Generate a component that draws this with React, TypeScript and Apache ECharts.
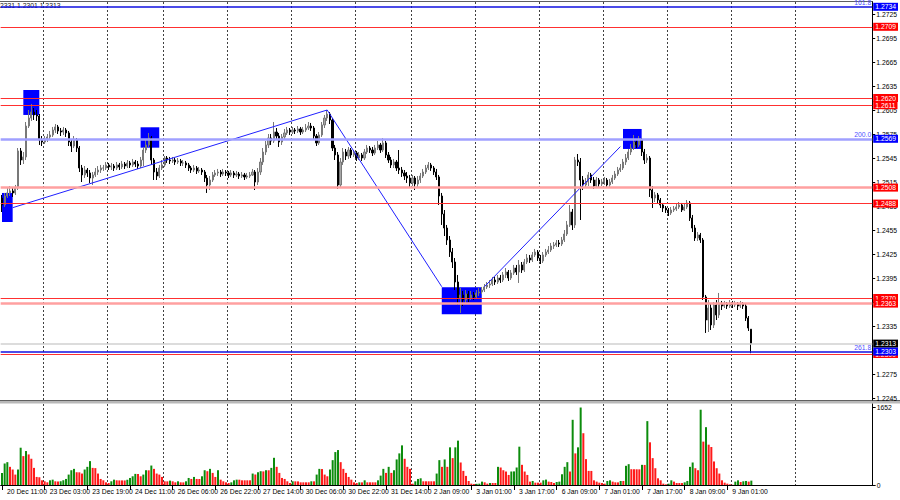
import React, { useEffect, useRef } from 'react';
import * as echarts from 'echarts';

// [open, close, low, high] per H1 bar
const candles: number[][] = [
  [1.2495, 1.24863, 1.24775, 1.24988], [1.24863, 1.24975, 1.24838, 1.25013], [1.24975, 1.25013, 1.2495, 1.25075], [1.25013, 1.25038, 1.24975, 1.251], [1.25038, 1.25013, 1.24963, 1.25075],
  [1.25013, 1.25075, 1.24988, 1.25113], [1.25075, 1.25538, 1.2505, 1.25575], [1.25538, 1.25425, 1.25363, 1.25575], [1.25425, 1.25463, 1.25375, 1.25525], [1.25463, 1.2585, 1.25425, 1.259],
  [1.2585, 1.2595, 1.25825, 1.2605], [1.2595, 1.26025, 1.25913, 1.26125], [1.26025, 1.25988, 1.25925, 1.26075], [1.25988, 1.25975, 1.25913, 1.2605], [1.25975, 1.25675, 1.25613, 1.26],
  [1.25675, 1.2565, 1.256, 1.25725], [1.2565, 1.25688, 1.25625, 1.25725], [1.25688, 1.25713, 1.2565, 1.2575], [1.25713, 1.25738, 1.25675, 1.25788], [1.25738, 1.258, 1.25713, 1.25838],
  [1.258, 1.25838, 1.25763, 1.25875], [1.25838, 1.25788, 1.2575, 1.25863], [1.25788, 1.25775, 1.25725, 1.25825], [1.25775, 1.258, 1.25738, 1.25838], [1.258, 1.25763, 1.25713, 1.25825],
  [1.25763, 1.2565, 1.256, 1.25788], [1.2565, 1.256, 1.25525, 1.25688], [1.256, 1.25675, 1.25575, 1.25725], [1.25675, 1.25575, 1.25525, 1.257], [1.25575, 1.25325, 1.25275, 1.256],
  [1.25325, 1.25238, 1.2515, 1.25363], [1.25238, 1.253, 1.252, 1.2535], [1.253, 1.25263, 1.25213, 1.25325], [1.25263, 1.252, 1.25138, 1.253], [1.252, 1.25238, 1.25113, 1.25275],
  [1.25238, 1.25275, 1.25213, 1.25325], [1.25275, 1.253, 1.25238, 1.2535], [1.253, 1.25325, 1.25263, 1.25363], [1.25325, 1.25325, 1.25288, 1.25363], [1.25325, 1.25363, 1.253, 1.254],
  [1.25363, 1.25338, 1.253, 1.25388], [1.25338, 1.2535, 1.253, 1.25388], [1.2535, 1.25325, 1.25288, 1.25375], [1.25325, 1.25363, 1.253, 1.254], [1.25363, 1.25338, 1.253, 1.25388],
  [1.25338, 1.25375, 1.25313, 1.25413], [1.25375, 1.2535, 1.25313, 1.254], [1.2535, 1.25388, 1.25325, 1.25425], [1.25388, 1.25363, 1.25325, 1.25413], [1.25363, 1.254, 1.25338, 1.25438],
  [1.254, 1.25375, 1.25338, 1.25425], [1.25375, 1.2535, 1.25313, 1.25413], [1.2535, 1.25425, 1.25325, 1.25463], [1.25425, 1.2555, 1.2535, 1.25588], [1.2555, 1.25613, 1.25513, 1.25675],
  [1.25613, 1.257, 1.25588, 1.25763], [1.257, 1.25425, 1.25363, 1.25725], [1.25425, 1.25275, 1.25175, 1.2545], [1.25275, 1.25225, 1.25175, 1.25325], [1.25225, 1.25325, 1.252, 1.25363],
  [1.25325, 1.25363, 1.253, 1.25425], [1.25363, 1.2545, 1.25338, 1.25475], [1.2545, 1.25425, 1.25388, 1.25475], [1.25425, 1.25413, 1.25375, 1.25463], [1.25413, 1.25425, 1.25388, 1.25463],
  [1.25425, 1.254, 1.25363, 1.2545], [1.254, 1.25413, 1.25375, 1.2545], [1.25413, 1.25388, 1.2535, 1.25438], [1.25388, 1.25388, 1.2535, 1.25425], [1.25388, 1.25363, 1.25325, 1.25413],
  [1.25363, 1.25325, 1.25288, 1.25388], [1.25325, 1.253, 1.25263, 1.2535], [1.253, 1.25325, 1.25275, 1.25363], [1.25325, 1.25288, 1.2525, 1.2535], [1.25288, 1.253, 1.25263, 1.25338],
  [1.253, 1.25275, 1.25238, 1.25325], [1.25275, 1.252, 1.2515, 1.253], [1.252, 1.25113, 1.25013, 1.25238], [1.25113, 1.25175, 1.2505, 1.25225], [1.25175, 1.25238, 1.2515, 1.25275],
  [1.25238, 1.25263, 1.25213, 1.253], [1.25263, 1.25275, 1.25225, 1.25313], [1.25275, 1.2525, 1.25213, 1.253], [1.2525, 1.25275, 1.25225, 1.25313], [1.25275, 1.25263, 1.25225, 1.253],
  [1.25263, 1.25238, 1.252, 1.25288], [1.25238, 1.25263, 1.25213, 1.253], [1.25263, 1.25238, 1.252, 1.25288], [1.25238, 1.2525, 1.25213, 1.25288], [1.2525, 1.25225, 1.25188, 1.25275],
  [1.25225, 1.25238, 1.252, 1.25275], [1.25238, 1.25213, 1.25175, 1.25263], [1.25213, 1.25225, 1.25188, 1.25263], [1.25225, 1.25238, 1.252, 1.25275], [1.25238, 1.25275, 1.25225, 1.25313],
  [1.25275, 1.2515, 1.2505, 1.253], [1.2515, 1.25275, 1.25113, 1.25325], [1.25275, 1.254, 1.25238, 1.2545], [1.254, 1.25525, 1.25363, 1.25575], [1.25525, 1.25613, 1.25488, 1.25663],
  [1.25613, 1.257, 1.25575, 1.2575], [1.257, 1.25663, 1.25613, 1.2575], [1.25663, 1.25775, 1.25638, 1.259], [1.25775, 1.25725, 1.25675, 1.25825], [1.25725, 1.2565, 1.25588, 1.25763],
  [1.2565, 1.25713, 1.25613, 1.2575], [1.25713, 1.25763, 1.25688, 1.25813], [1.25763, 1.258, 1.25738, 1.25838], [1.258, 1.25775, 1.25738, 1.25825], [1.25775, 1.258, 1.2575, 1.25838],
  [1.258, 1.25788, 1.2575, 1.25825], [1.25788, 1.25813, 1.25763, 1.2585], [1.25813, 1.25775, 1.25738, 1.25838], [1.25775, 1.258, 1.2575, 1.25838], [1.258, 1.25825, 1.25775, 1.25875],
  [1.25825, 1.2585, 1.258, 1.259], [1.2585, 1.25825, 1.25788, 1.25888], [1.25825, 1.25725, 1.25675, 1.2585], [1.25725, 1.25638, 1.256, 1.2575], [1.25638, 1.25738, 1.25613, 1.25775],
  [1.25738, 1.25863, 1.25713, 1.259], [1.25863, 1.2595, 1.25825, 1.25988], [1.2595, 1.26, 1.25913, 1.2605], [1.26, 1.25925, 1.25875, 1.26025], [1.25925, 1.25575, 1.25538, 1.2595],
  [1.25575, 1.25488, 1.25425, 1.25613], [1.25488, 1.25113, 1.25063, 1.25525], [1.25113, 1.254, 1.25075, 1.2545], [1.254, 1.25525, 1.25363, 1.25575], [1.25525, 1.25475, 1.25425, 1.25563],
  [1.25475, 1.2555, 1.25438, 1.25588], [1.2555, 1.25488, 1.2545, 1.25575], [1.25488, 1.25513, 1.25463, 1.2555], [1.25513, 1.2545, 1.25413, 1.25538], [1.2545, 1.25488, 1.25425, 1.25525],
  [1.25488, 1.2545, 1.25413, 1.25513], [1.2545, 1.25525, 1.25425, 1.25563], [1.25525, 1.25575, 1.255, 1.25613], [1.25575, 1.2555, 1.25513, 1.256], [1.2555, 1.25513, 1.25475, 1.25588],
  [1.25513, 1.25575, 1.25488, 1.25613], [1.25575, 1.25613, 1.2555, 1.25663], [1.25613, 1.2555, 1.25513, 1.25638], [1.2555, 1.25638, 1.25525, 1.257], [1.25638, 1.25488, 1.2545, 1.25663],
  [1.25488, 1.25425, 1.25388, 1.25525], [1.25425, 1.25363, 1.25325, 1.25463], [1.25363, 1.254, 1.25325, 1.25438], [1.254, 1.25325, 1.25288, 1.25425], [1.25325, 1.253, 1.2525, 1.2555],
  [1.253, 1.25263, 1.25213, 1.25338], [1.25263, 1.25225, 1.25175, 1.253], [1.25225, 1.252, 1.25138, 1.25275], [1.252, 1.25138, 1.25075, 1.25238], [1.25138, 1.252, 1.251, 1.25238],
  [1.252, 1.25125, 1.2505, 1.25225], [1.25125, 1.25175, 1.25088, 1.25225], [1.25175, 1.25225, 1.25138, 1.25263], [1.25225, 1.25275, 1.252, 1.25313], [1.25275, 1.25325, 1.2525, 1.25363],
  [1.25325, 1.25363, 1.253, 1.254], [1.25363, 1.25325, 1.25288, 1.25388], [1.25325, 1.25275, 1.25238, 1.2535], [1.25275, 1.25213, 1.25175, 1.25313], [1.25213, 1.24975, 1.24863, 1.25238],
  [1.24975, 1.2475, 1.24613, 1.25013], [1.2475, 1.24575, 1.24475, 1.248], [1.24575, 1.24425, 1.24363, 1.24613], [1.24425, 1.24275, 1.24213, 1.24475], [1.24275, 1.2415, 1.24075, 1.24325],
  [1.2415, 1.239, 1.238, 1.242], [1.239, 1.237, 1.23613, 1.23988], [1.237, 1.23738, 1.23513, 1.23825], [1.23738, 1.23675, 1.236, 1.23788], [1.23675, 1.2375, 1.23638, 1.238],
  [1.2375, 1.237, 1.2365, 1.23788], [1.237, 1.23738, 1.23675, 1.23788], [1.23738, 1.23713, 1.23675, 1.23775], [1.23713, 1.23763, 1.23688, 1.238], [1.23763, 1.23775, 1.23725, 1.23825],
  [1.23775, 1.238, 1.2375, 1.23838], [1.238, 1.23838, 1.23775, 1.23875], [1.23838, 1.23863, 1.23813, 1.239], [1.23863, 1.23875, 1.23825, 1.23925], [1.23875, 1.23925, 1.2385, 1.23963],
  [1.23925, 1.239, 1.23863, 1.23963], [1.239, 1.2395, 1.23875, 1.23988], [1.2395, 1.23925, 1.23888, 1.23988], [1.23925, 1.23988, 1.239, 1.24025], [1.23988, 1.24025, 1.2395, 1.24075],
  [1.24025, 1.2395, 1.23913, 1.2405], [1.2395, 1.24013, 1.23925, 1.2405], [1.24013, 1.24075, 1.23988, 1.24113], [1.24075, 1.24025, 1.23988, 1.24113], [1.24025, 1.24113, 1.23888, 1.24175],
  [1.24113, 1.2405, 1.24013, 1.2415], [1.2405, 1.2415, 1.24025, 1.24188], [1.2415, 1.242, 1.24125, 1.2425], [1.242, 1.24175, 1.24138, 1.24238], [1.24175, 1.24238, 1.2415, 1.24275],
  [1.24238, 1.24275, 1.24213, 1.24313], [1.24275, 1.242, 1.24163, 1.243], [1.242, 1.24163, 1.24125, 1.24238], [1.24163, 1.24238, 1.24138, 1.24275], [1.24238, 1.24275, 1.24213, 1.24313],
  [1.24275, 1.243, 1.2425, 1.2435], [1.243, 1.2435, 1.24275, 1.24388], [1.2435, 1.24363, 1.24313, 1.244], [1.24363, 1.24388, 1.24338, 1.24425], [1.24388, 1.24375, 1.24338, 1.24425],
  [1.24375, 1.24425, 1.2435, 1.24463], [1.24425, 1.245, 1.244, 1.2455], [1.245, 1.24613, 1.24475, 1.24663], [1.24613, 1.24775, 1.24588, 1.24863], [1.24775, 1.24613, 1.2455, 1.24813],
  [1.24613, 1.25425, 1.24575, 1.25463], [1.25425, 1.254, 1.2535, 1.255], [1.254, 1.25175, 1.24675, 1.2545], [1.25175, 1.25113, 1.2505, 1.25225], [1.25113, 1.2515, 1.25075, 1.252],
  [1.2515, 1.25238, 1.251, 1.25275], [1.25238, 1.25175, 1.25138, 1.25263], [1.25175, 1.251, 1.25063, 1.25213], [1.251, 1.25175, 1.25075, 1.25213], [1.25175, 1.25125, 1.25088, 1.252],
  [1.25125, 1.2515, 1.251, 1.25188], [1.2515, 1.25175, 1.25113, 1.25213], [1.25175, 1.25113, 1.25075, 1.252], [1.25113, 1.2515, 1.25088, 1.25188], [1.2515, 1.252, 1.25125, 1.25238],
  [1.252, 1.2525, 1.25175, 1.25288], [1.2525, 1.253, 1.25225, 1.25338], [1.253, 1.25325, 1.25275, 1.25375], [1.25325, 1.254, 1.253, 1.25438], [1.254, 1.2545, 1.25363, 1.255],
  [1.2545, 1.25525, 1.25425, 1.25563], [1.25525, 1.25575, 1.25488, 1.25625], [1.25575, 1.2565, 1.2555, 1.25738], [1.2565, 1.25613, 1.25575, 1.25688], [1.25613, 1.25675, 1.25588, 1.25725],
  [1.25675, 1.25525, 1.25475, 1.257], [1.25525, 1.25425, 1.25375, 1.25563], [1.25425, 1.2545, 1.25388, 1.255], [1.2545, 1.2505, 1.24963, 1.25475], [1.2505, 1.2495, 1.24825, 1.251],
  [1.2495, 1.24988, 1.249, 1.25025], [1.24988, 1.24925, 1.24875, 1.25013], [1.24925, 1.24863, 1.24825, 1.2495], [1.24863, 1.24825, 1.24775, 1.24888], [1.24825, 1.248, 1.24763, 1.2485],
  [1.248, 1.24763, 1.24725, 1.24825], [1.24763, 1.248, 1.24738, 1.24838], [1.248, 1.24813, 1.24775, 1.2485], [1.24813, 1.24838, 1.24788, 1.24875], [1.24838, 1.24863, 1.24813, 1.249],
  [1.24863, 1.248, 1.24775, 1.24888], [1.248, 1.24838, 1.24788, 1.24875], [1.24838, 1.24888, 1.24813, 1.24925], [1.24888, 1.247, 1.24663, 1.24913], [1.247, 1.24575, 1.24525, 1.24738],
  [1.24575, 1.2445, 1.24413, 1.24613], [1.2445, 1.24488, 1.24413, 1.24525], [1.24488, 1.24425, 1.24388, 1.24513], [1.24425, 1.23713, 1.23675, 1.2445], [1.23713, 1.23425, 1.23263, 1.23738],
  [1.23425, 1.23575, 1.23275, 1.23675], [1.23575, 1.23363, 1.233, 1.23625], [1.23363, 1.23613, 1.23325, 1.2365], [1.23613, 1.23488, 1.23425, 1.23675], [1.23488, 1.23625, 1.2345, 1.23763],
  [1.23625, 1.236, 1.2355, 1.23663], [1.236, 1.23625, 1.23575, 1.23663], [1.23625, 1.236, 1.23563, 1.2365], [1.236, 1.23638, 1.23575, 1.23675], [1.23638, 1.23613, 1.23575, 1.23663],
  [1.23613, 1.23625, 1.23588, 1.23663], [1.23625, 1.236, 1.2355, 1.2365], [1.236, 1.23625, 1.23575, 1.23663], [1.23625, 1.236, 1.23563, 1.2365], [1.236, 1.2345, 1.23413, 1.23625],
  [1.2345, 1.23325, 1.23288, 1.23475], [1.2331, 1.2313, 1.2301, 1.2331],
];

const volumes: number[] = [
  258, 456, 487, 387, 330, 222, 330, 795, 616, 724,
  652, 559, 365, 172, 165, 100, 79, 57, 100, 114,
  79, 75, 80, 100, 129, 222, 315, 344, 272, 270,
  244, 330, 387, 509, 365, 360, 244, 129, 100, 57,
  43, 79, 114, 100, 98, 98, 97, 114, 150, 186,
  237, 235, 186, 222, 315, 313, 415, 344, 244, 222,
  172, 79, 78, 93, 79, 57, 79, 57, 56, 79,
  150, 129, 172, 129, 128, 186, 315, 294, 344, 258,
  172, 315, 114, 79, 57, 43, 57, 100, 114, 113,
  100, 100, 100, 100, 244, 222, 272, 294, 290, 315,
  314, 365, 580, 387, 258, 150, 129, 79, 43, 79,
  78, 77, 57, 57, 57, 57, 79, 78, 222, 344,
  340, 222, 186, 330, 530, 702, 745, 487, 344, 258,
  172, 114, 57, 43, 57, 56, 100, 57, 57, 57,
  57, 100, 200, 344, 258, 387, 258, 315, 545, 674,
  845, 559, 387, 344, 28, 79, 129, 143, 79, 79,
  79, 79, 79, 244, 530, 387, 545, 387, 803, 573,
  803, 946, 480, 301, 194, 86, 29, 20, 25, 29,
  72, 57, 29, 43, 43, 43, 387, 373, 315, 287,
  215, 287, 290, 373, 817, 430, 287, 215, 72, 86,
  50, 50, 50, 100, 115, 72, 64, 43, 64, 72,
  229, 387, 487, 287, 1390, 674, 803, 1652, 1104, 552,
  301, 300, 100, 72, 50, 43, 29, 86, 100, 72,
  57, 56, 86, 86, 409, 444, 337, 336, 335, 334,
  430, 428, 1362, 910, 573, 358, 143, 100, 29, 14,
  29, 100, 72, 43, 42, 41, 57, 86, 387, 480,
  358, 315, 1605, 925, 1233, 860, 810, 502, 358, 244,
  100, 50, 29, 14, 5, 72, 100, 64, 79, 86,
  72, 93,
];

const timeLabels = [
  '20 Dec 11:00', '23 Dec 03:00', '23 Dec 19:00', '24 Dec 11:00', '26 Dec 06:00', '26 Dec 22:00',
  '27 Dec 14:00', '30 Dec 06:00', '30 Dec 22:00', '31 Dec 14:00', '2 Jan 09:00', '3 Jan 01:00',
  '3 Jan 17:00', '6 Jan 09:00', '7 Jan 01:00', '7 Jan 17:00', '8 Jan 09:00', '9 Jan 01:00',
];
const timeLabelBars = [0, 16, 32, 48, 64, 80, 96, 112, 128, 144, 160, 176, 192, 208, 224, 240, 256, 272];
const gridLineBars = [16, 40, 61, 85, 109, 133, 154, 178, 202, 226, 250, 274, 298];
const slotCount = 327;

const priceTicks = [1.2245, 1.2275, 1.2305, 1.2335, 1.2365, 1.2395, 1.2425, 1.2455, 1.2485, 1.2515, 1.2545, 1.2575, 1.2605, 1.2635, 1.2665, 1.2695, 1.2725];
const priceMin = 1.22425;
const priceMax = 1.274;
const volumeTicks = [0, 1652];
const volumeMax = 1727;

const redLevels = [1.2709, 1.2620, 1.2611, 1.2488, 1.2370, 1.2300];
const pinkLevels = [1.2508, 1.2363];
const fiboLevels = [1.2734, 1.2569, 1.2303];
const fiboNames = ['161.8', '200.0', '261.8'];
const bidPrice = 1.2313;
const headerText = '2331 1.2301 1.2313';

const trendLines: number[][][] = [
  [[4.24, 1.24829], [121.9, 1.2605], [164.9, 1.23841]],
  [[180.5, 1.23841], [232.4, 1.25592]],
];
const boxes: number[][][] = [
  [[-0.75, 1.25013], [4.1, 1.2465]],
  [[7.5, 1.263], [14.4, 1.25988]],
  [[51.5, 1.25834], [59.4, 1.25579]],
  [[164.5, 1.23834], [180.4, 1.23496]],
  [[232.5, 1.25813], [240.4, 1.25563]],
];

const FONT = '"Liberation Sans", Arial, sans-serif';
const FS = 6.8;

export default function App() {
  const ref = useRef<HTMLDivElement>(null);
  useEffect(() => {
    if (!ref.current) return;
    const chart = echarts.init(ref.current, undefined, { renderer: 'svg' });
    const categories = Array.from({ length: slotCount }, (_, i) => String(i));
    const labelAt = new Map<number, string>(timeLabelBars.map((b, k) => [b, timeLabels[k]]));
    const gridSet = new Set(gridLineBars);
    const fmt = (p: any) => Number(p.value).toFixed(4);
    const tag = (bg: string) => ({
      show: true, position: 'end', distance: 1, formatter: fmt, backgroundColor: bg, color: '#ffffff',
      fontSize: FS, fontFamily: FONT, padding: [1, 2, 0, 2], lineHeight: 7,
    });
    const lineData: any[] = [];
    redLevels.forEach((v) => lineData.push({ yAxis: v, lineStyle: { color: '#ff3030', width: 1, type: 'solid' }, label: tag('#ff0000') }));
    pinkLevels.forEach((v) => lineData.push({ yAxis: v, lineStyle: { color: '#ffa0a0', width: 2.5, type: 'solid' }, label: tag('#ff0000') }));
    lineData.push({ yAxis: bidPrice, lineStyle: { color: '#d0d0d0', width: 1.5, type: 'solid' }, label: tag('#000000') });
    fiboLevels.forEach((v, k) => {
      const light = k === 1;
      lineData.push({ yAxis: v, lineStyle: { color: light ? '#a0a0ff' : '#1010e0', width: light ? 2.5 : 1.6, type: 'solid' }, label: tag('#0000ff') });
      lineData.push({
        yAxis: v, lineStyle: { color: 'rgba(255,255,255,0)', width: 0.1 },
        label: { show: true, position: 'insideEndTop', distance: 1, formatter: fiboNames[k], color: '#5050ff', fontSize: FS, fontFamily: FONT, backgroundColor: 'transparent', padding: 0, opacity: 1 },
      });
    });

    const volData = volumes.map((v, i) => ({
      value: v,
      itemStyle: { color: i === 0 || v > volumes[i - 1] ? '#0c8c0c' : '#ff1a1a' },
    }));

    const splitLine = { show: true, interval: (i: number) => gridSet.has(i), lineStyle: { color: '#404040', width: 1, type: [2, 2] } };

    chart.setOption({
      animation: false,
      backgroundColor: '#ffffff',
      grid: [
        { left: 0.667, top: 2, width: 872, height: 398 },
        { left: 0.667, top: 404, width: 872, height: 81 },
      ],
      xAxis: [
        {
          type: 'category', gridIndex: 0, data: categories, boundaryGap: true,
          axisLine: { show: false }, axisTick: { show: false }, axisLabel: { show: false }, splitLine,
        },
        {
          type: 'category', gridIndex: 1, data: categories, boundaryGap: true,
          axisLine: { show: true, lineStyle: { color: '#000000', width: 1 } },
          axisTick: { show: true, alignWithLabel: true, interval: (i: number) => labelAt.has(i), length: 5, lineStyle: { color: '#000000' } },
          axisLabel: {
            show: true, interval: (i: number) => labelAt.has(i), formatter: (_v: string, i: number) => labelAt.get(i) ?? '',
            align: 'left', padding: [0, 0, 0, 5], margin: 3, fontSize: FS, color: '#000000', fontFamily: FONT,
          },
          splitLine,
        },
      ],
      yAxis: [
        {
          type: 'value', gridIndex: 0, position: 'right', min: priceMin, max: priceMax,
          splitLine: { show: false },
          axisLine: { show: true, lineStyle: { color: '#000000', width: 1 } },
          axisTick: { show: true, customValues: priceTicks, length: 3, lineStyle: { color: '#000000' } },
          axisLabel: { show: true, customValues: priceTicks, formatter: (v: number) => v.toFixed(4), margin: 4, fontSize: FS, color: '#000000', fontFamily: FONT },
        },
        {
          type: 'value', gridIndex: 1, position: 'right', min: 0, max: volumeMax,
          splitLine: { show: false },
          axisLine: { show: true, lineStyle: { color: '#000000', width: 1 } },
          axisTick: { show: true, customValues: volumeTicks, length: 3, lineStyle: { color: '#000000' } },
          axisLabel: { show: true, customValues: volumeTicks, formatter: (v: number) => String(v), margin: 4, fontSize: FS, color: '#000000', fontFamily: FONT },
        },
      ],
      series: [
        {
          type: 'candlestick', xAxisIndex: 0, yAxisIndex: 0, data: candles, barWidth: 1.6,
          itemStyle: { color: '#a6a6a6', color0: '#000000', borderColor: '#787878', borderColor0: '#000000', borderWidth: 1 },
          markArea: {
            silent: true,
            itemStyle: { color: '#0000ff', opacity: 1, borderWidth: 0 },
            data: boxes.map(([a, b]) => [{ coord: a }, { coord: b }]),
          },
          markLine: {
            silent: true, symbol: ['none', 'none'], animation: false, precision: 5,
            data: lineData,
          },
        },
        ...trendLines.map((pts) => ({
          type: 'line', xAxisIndex: 0, yAxisIndex: 0, data: pts, symbol: 'none', z: 3,
          lineStyle: { color: '#2020ff', width: 1 }, silent: true,
        })),
        {
          type: 'bar', xAxisIndex: 1, yAxisIndex: 1, data: volData, barWidth: 2, silent: true,
        },
      ],
      graphic: [
        { type: 'line', shape: { x1: 0, y1: 1.5, x2: 873, y2: 1.5 }, style: { stroke: '#606060', lineWidth: 1 }, silent: true },
        { type: 'rect', shape: { x: 0, y: 400.5, width: 900, height: 3 }, style: { fill: '#b8b8b8' }, silent: true },
        { type: 'line', shape: { x1: 0, y1: 400.5, x2: 900, y2: 400.5 }, style: { stroke: '#606060', lineWidth: 1 }, silent: true },
        { type: 'text', x: 0, y: 2, style: { text: headerText, fill: '#202020', font: `${FS}px ${FONT}` }, silent: true },
      ],
    });
    return () => chart.dispose();
  }, []);
  return <div ref={ref} style={{ position: 'fixed', left: 0, top: 0, width: 900, height: 500 }} />;
}
